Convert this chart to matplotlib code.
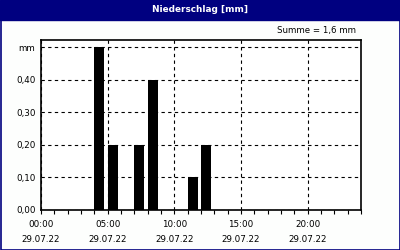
import matplotlib.pyplot as plt
import matplotlib.patches as patches

# hourly precipitation, 29.07.22 (bar starts at the hour)
hours = [4, 5, 7, 8, 11, 12]
rain_mm = [0.5, 0.2, 0.2, 0.4, 0.1, 0.2]
major_hours = [0, 5, 10, 15, 20]
x_labels = ["00:00\n29.07.22", "05:00\n29.07.22", "10:00\n29.07.22",
            "15:00\n29.07.22", "20:00\n29.07.22"]
y_ticks = [0.0, 0.1, 0.2, 0.3, 0.4, 0.5]
y_labels = ["0,00", "0,10", "0,20", "0,30", "0,40", "mm"]

navy = "#000080"

fig = plt.figure(figsize=(4, 2.5), dpi=100)
fig.patch.set_facecolor("#fdfefd")

# title bar and frame
fig.add_artist(patches.Rectangle((0, 1 - 20 / 250), 1, 20 / 250,
                                 transform=fig.transFigure, color=navy, zorder=0))
fig.add_artist(patches.Rectangle((0.5 / 400, 0.5 / 250), 399 / 400, 249 / 250,
                                 transform=fig.transFigure, fill=False,
                                 edgecolor=navy, linewidth=1.2))
fig.text(0.5, 1 - 10 / 250, "Niederschlag [mm]", color="white", fontsize=6.4,
         fontweight="bold", ha="center", va="center")
fig.text(356 / 400, 1 - 31 / 250, "Summe = " + f"{sum(rain_mm):.1f}".replace(".", ",") + " mm",
         fontsize=6.2, ha="right", va="center")

ax = fig.add_axes([41 / 400, 1 - 210 / 250, 320 / 400, 170 / 250])
ax.set_facecolor("white")
ax.bar(hours, rain_mm, width=0.75, align="edge", color="black", zorder=3)

ax.set_xlim(0, 24)
ax.set_ylim(0, 0.522)
ax.set_xticks(major_hours)
ax.set_xticklabels(x_labels, linespacing=1.9)
ax.set_xticks(range(25), minor=True)
ax.set_yticks(y_ticks)
ax.set_yticklabels(y_labels)

ax.grid(True, color="black", linestyle=(0, (3, 3)), linewidth=0.8, zorder=1)
ax.tick_params(axis="x", which="both", direction="out", length=3, width=0.8,
               labelsize=6.3, pad=4)
ax.tick_params(axis="y", direction="out", length=0, labelsize=6.3, pad=4)
for s in ax.spines.values():
    s.set_linewidth(1.2)

fig.savefig("out.png", dpi=100, facecolor=fig.get_facecolor())
